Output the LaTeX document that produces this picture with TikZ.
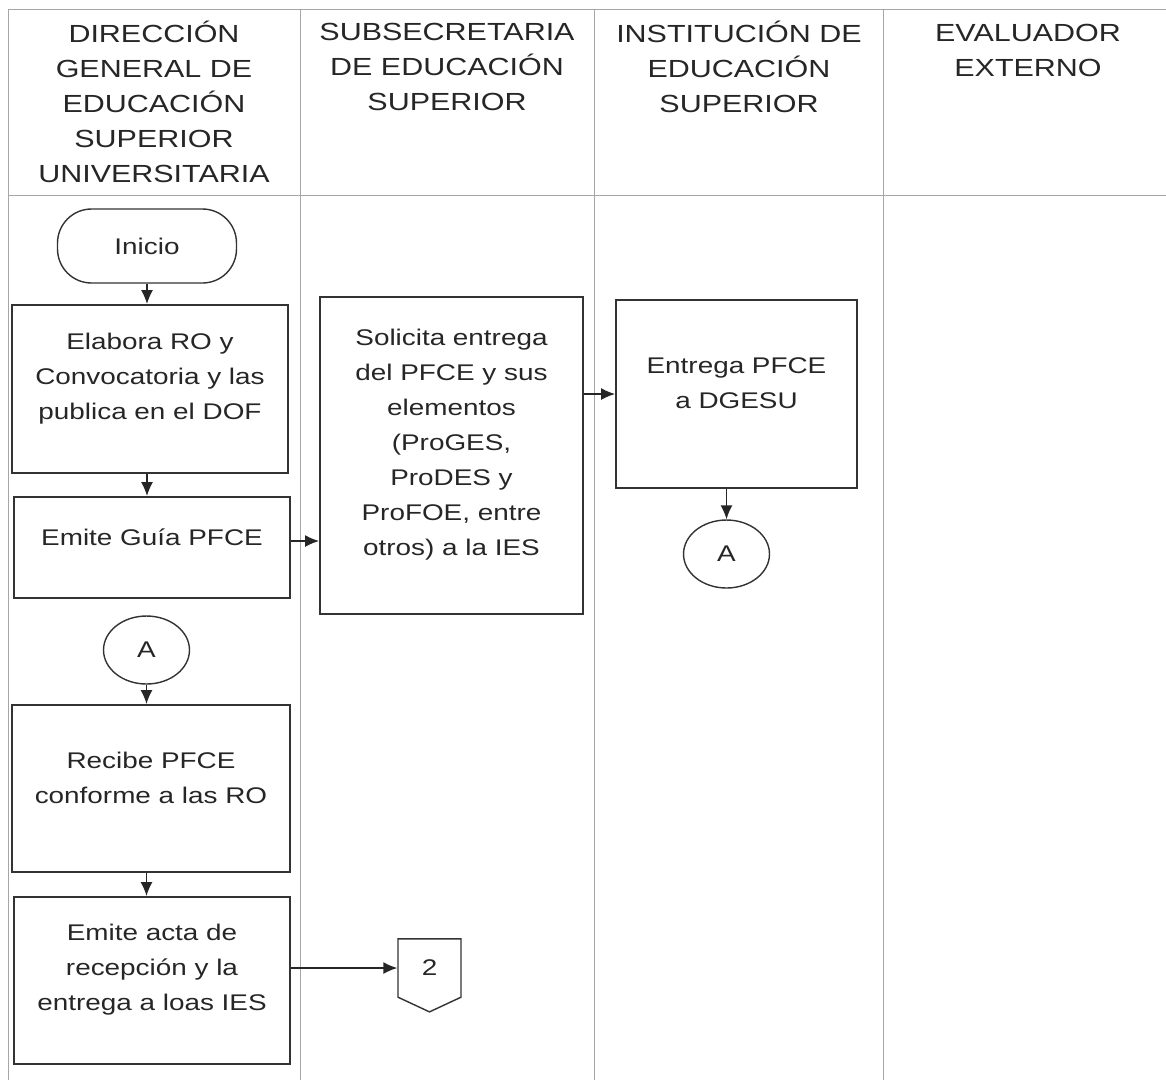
\documentclass[tikz,border=0pt]{standalone}
\usepackage{fontspec}
\setmainfont[FakeStretch=1.23]{Liberation Sans}
\usetikzlibrary{arrows.meta,shapes.geometric,shapes.symbols}

\newcommand{\fuentecab}{\fontsize{14.1pt}{19.9pt}\selectfont}
\newcommand{\fuentecaja}{\fontsize{12.9pt}{19.9pt}\selectfont}

\begin{document}
\begin{tikzpicture}[x=0.02cm,y=-0.02cm,
  carril/.style={draw=gray!70, line width=0.5pt},
  cabecera/.style={align=center, font=\fuentecab, text=black!85},
  caja/.style={draw=black!80, line width=1.1pt, inner sep=0pt},
  texto/.style={align=center, yshift=0.21cm, font=\fuentecaja, text=black!85},
  terminal/.style={draw=black!80, line width=0.8pt, rounded corners=0.68cm, minimum width=3.58cm, minimum height=1.48cm, font=\fuentecaja, text=black!85},
  conector/.style={draw=black!80, line width=0.8pt, ellipse, minimum width=1.72cm, minimum height=1.36cm, inner sep=0pt, font=\fuentecaja, text=black!85},
  otrapag/.style={draw=black!80, line width=0.8pt, signal, signal to=south, signal pointer angle=130, minimum width=1.26cm, minimum height=1.24cm, inner sep=0pt, font=\fuentecaja, text=black!85},
  flecha/.style={-{Latex[length=2.8mm,width=2.4mm]}, line width=0.8pt, black!85}]
\useasboundingbox (0,0) rectangle (1166,1080);
% carriles
\draw[carril] (8,9) -- (1166,9);
\draw[carril] (8,195) -- (1166,195);
\foreach \x in {8,300,594,883}
  \draw[carril] (\x,9) -- (\x,1080);
% cabeceras
\node[cabecera] (dgesu) at (154,102) {DIRECCIÓN\\GENERAL DE\\EDUCACIÓN\\SUPERIOR\\UNIVERSITARIA};
\node[cabecera] (ses) at (447,67) {SUBSECRETARIA\\DE EDUCACIÓN\\SUPERIOR};
\node[cabecera] (ies) at (739,67) {INSTITUCIÓN DE\\EDUCACIÓN\\SUPERIOR};
\node[cabecera] (evaluador) at (1028,50) {EVALUADOR\\EXTERNO};
% procesos
\node[terminal] (inicio) at (147,246) {Inicio};
\node[caja, minimum width=5.52cm, minimum height=3.36cm,
  label={[texto]center:{Elabora RO y\\Convocatoria y las\\publica en el DOF}}] (elabora) at (150,389) {};
\node[caja, minimum width=5.52cm, minimum height=2.02cm,
  label={[texto]center:{Emite Guía PFCE}}] (guia) at (152,547.5) {};
\node[caja, minimum width=5.26cm, minimum height=6.34cm,
  label={[texto]center:{Solicita entrega\\del PFCE y sus\\elementos\\(ProGES,\\ProDES y\\ProFOE, entre\\otros) a la IES}}] (solicita) at (451.5,455.5) {};
\node[caja, minimum width=4.82cm, minimum height=3.76cm,
  label={[texto]center:{Entrega PFCE\\a DGESU}}] (entrega) at (736.5,394) {};
\node[conector] (conA2) at (726.5,554) {A};
\node[conector] (conA1) at (146.5,650) {A};
\node[caja, minimum width=5.56cm, minimum height=3.34cm,
  label={[texto]center:{Recibe PFCE\\conforme a las RO}}] (recibe) at (151,788.5) {};
\node[caja, minimum width=5.52cm, minimum height=3.34cm,
  label={[texto]center:{Emite acta de\\recepción y la\\entrega a loas IES}}] (acta) at (152,980.5) {};
\node[otrapag] (pagina) at (429.5,968) {2};
% flechas
\draw[flecha] (inicio.south) -- (inicio.south |- elabora.north);
\draw[flecha] (inicio.south |- elabora.south) -- (inicio.south |- guia.north);
\draw[flecha] ([yshift=0.13cm]guia.east) -- ([yshift=0.13cm]guia.east -| solicita.west);
\draw[flecha] (entrega.west -| solicita.east) -- (entrega.west);
\draw[flecha] (conA2.north |- entrega.south) -- (conA2.north);
\draw[flecha] (conA1.south) -- (conA1.south |- recibe.north);
\draw[flecha] (conA1.south |- recibe.south) -- (conA1.south |- acta.north);
\draw[flecha] (acta.east |- pagina.west) -- (pagina.west);
\end{tikzpicture}
\end{document}
